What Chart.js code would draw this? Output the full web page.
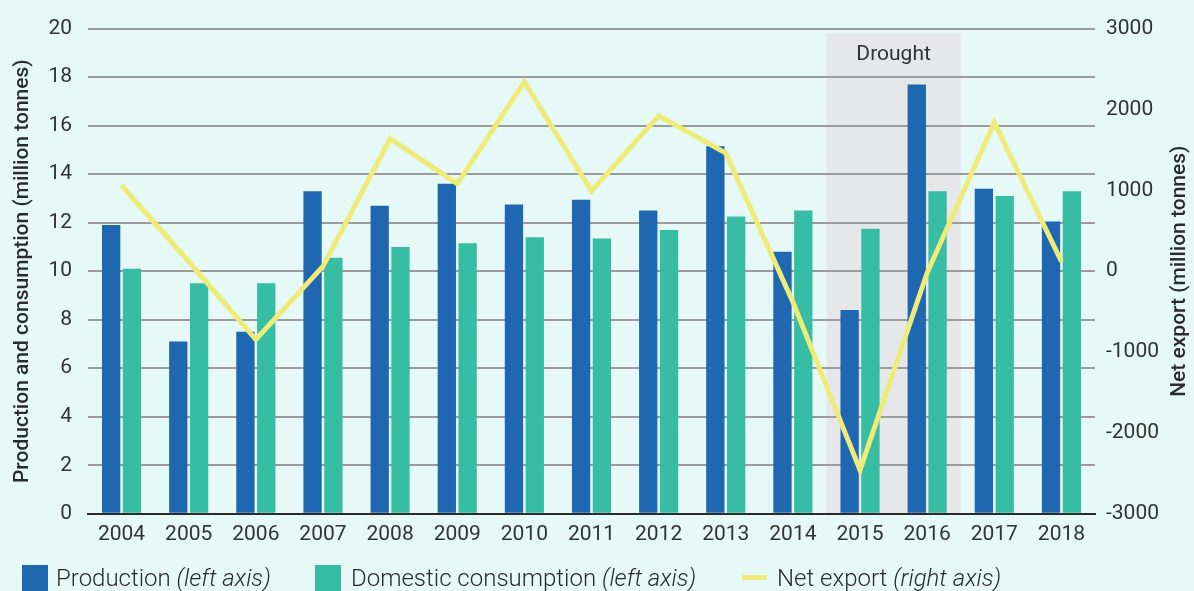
<!DOCTYPE html>
<html>
  <head>
    <meta charset="utf-8">
    <title>Production, consumption and net export</title>
  </head>
  <style media="screen">
    html, body {
      margin: 0;
      padding: 0;
      background: #e6f9f6;
      overflow: hidden;
    }
    #wrap {
      position: relative;
      width: 1194px;
      height: 591px;
    }
    #legend {
      position: absolute;
      left: 0;
      top: 0;
      width: 1194px;
      height: 591px;
      pointer-events: none;
      font-family: Roboto, sans-serif;
      font-size: 24px;
      font-weight: 300;
      color: #2b2b2b;
    }
    #legend .box {
      position: absolute;
      top: 565px;
      width: 26px;
      height: 30px;
    }
    #legend .ln {
      position: absolute;
      top: 575px;
      width: 25px;
      height: 5px;
    }
    #legend .txt {
      position: absolute;
      top: 564px;
      height: 28px;
      line-height: 28px;
      white-space: nowrap;
    }
    #legend i { font-style: italic; }
  </style>
  <body>
    <div id="wrap">
      <canvas id="grap" width="1194" height="591"></canvas>
      <div id="legend">
        <div class="box" style="left:22px;background:#1f67b1"></div>
        <div class="txt" style="left:56px">Production <i>(left axis)</i></div>
        <div class="box" style="left:315px;background:#37bda3"></div>
        <div class="txt" style="left:351px">Domestic consumption <i>(left axis)</i></div>
        <div class="ln" style="left:742px;background:#eeeb78"></div>
        <div class="txt" style="left:777px">Net export <i>(right axis)</i></div>
      </div>
    </div>
    <script src="https://cdn.jsdelivr.net/npm/chart.js" charset="utf-8"></script>
    <script type="text/javascript">
      // valores
      let anos = ["2004","2005","2006","2007","2008","2009","2010","2011","2012","2013","2014","2015","2016","2017","2018"];
      let producao = [11.9, 7.1, 7.5, 13.3, 12.7, 13.6, 12.75, 12.95, 12.5, 15.15, 10.8, 8.4, 17.7, 13.4, 12.05];
      let consumo = [10.1, 9.5, 9.5, 10.55, 11.0, 11.15, 11.4, 11.35, 11.7, 12.25, 12.5, 11.75, 13.3, 13.1, 13.3];
      let exportLiq = [1060, 120, -845, 60, 1640, 1080, 2340, 990, 1920, 1460, -380, -2460, -20, 1840, 120];
      let seca = ["2015", "2016"];

      let fonte = "Roboto, sans-serif";
      let texto = "#333333";

      // faixa cinza da seca, desenhada antes da grade
      let faixaSeca = {
        id: "faixaSeca",
        beforeDraw(chart) {
          let ctx = chart.ctx;
          let x = chart.scales.x, y = chart.scales.y;
          let passo = (x.right - x.left) / anos.length;
          let x0 = x.getPixelForValue(anos.indexOf(seca[0])) - passo / 2;
          let x1 = x.getPixelForValue(anos.indexOf(seca[1])) + passo / 2;
          let topo = y.getPixelForValue(19.8);
          ctx.save();
          ctx.fillStyle = "#e6e7e9";
          ctx.fillRect(x0, topo, x1 - x0, chart.chartArea.bottom - topo);
          ctx.fillStyle = texto;
          ctx.font = "21px " + fonte;
          ctx.textAlign = "center";
          ctx.textBaseline = "middle";
          ctx.fillText("Drought", (x0 + x1) / 2, topo + 21);
          ctx.restore();
        },
        // titulo do eixo direito, lido de baixo para cima
        afterDraw(chart) {
          let ctx = chart.ctx;
          let a = chart.chartArea;
          ctx.save();
          ctx.translate(1180, (a.top + a.bottom) / 2);
          ctx.rotate(-Math.PI / 2);
          ctx.fillStyle = "#2b2b2b";
          ctx.font = "500 21px " + fonte;
          ctx.textAlign = "center";
          ctx.textBaseline = "middle";
          ctx.fillText("Net export (million tonnes)", 0, 0);
          ctx.restore();
        }
      };

      let data = {
        labels: anos,
        datasets: [{
          type: "line",
          label: "Net export (right axis)",
          data: exportLiq,
          yAxisID: "y2",
          borderColor: "#eeeb78",
          borderWidth: 5,
          pointRadius: 0,
          tension: 0,
          fill: false,
          order: 0
        }, {
          label: "Production (left axis)",
          data: producao,
          yAxisID: "y",
          backgroundColor: "#1f67b1",
          categoryPercentage: 0.62,
          barPercentage: 0.88,
          order: 1
        }, {
          label: "Domestic consumption (left axis)",
          data: consumo,
          yAxisID: "y",
          backgroundColor: "#37bda3",
          categoryPercentage: 0.62,
          barPercentage: 0.88,
          order: 1
        }]
      };

      var grafico = new Chart(document.querySelector("#grap"), {
        type: "bar",
        data: data,
        plugins: [faixaSeca],
        options: {
          responsive: false,
          animation: false,
          layout: { padding: { top: 22, bottom: 36, left: 0, right: 0 } },
          plugins: {
            legend: { display: false },
            tooltip: { enabled: false }
          },
          scales: {
            x: {
              grid: { display: false, drawTicks: false },
              border: { display: true, color: "#2b2b2b", width: 2 },
              ticks: {
                color: texto,
                font: { family: fonte, size: 21 },
                padding: 8,
                maxRotation: 0,
                autoSkip: false
              }
            },
            y: {
              position: "left",
              min: 0,
              max: 20,
              afterFit: s => { s.width = 88; },
              grid: { color: "#9c9c9c", lineWidth: 2, drawTicks: false },
              border: { display: false },
              ticks: {
                stepSize: 2,
                color: texto,
                font: { family: fonte, size: 21 },
                padding: 16
              },
              title: {
                display: true,
                text: "Production and consumption (million tonnes)",
                color: "#2b2b2b",
                font: { family: fonte, size: 21, weight: "500" },
                padding: { top: 10, bottom: 0 }
              }
            },
            y2: {
              position: "right",
              min: -3000,
              max: 3000,
              afterFit: s => { s.width = 99; },
              grid: { display: false, drawTicks: false },
              border: { display: false },
              ticks: {
                stepSize: 1000,
                color: texto,
                font: { family: fonte, size: 21 },
                padding: 11,
                callback: v => String(v)
              }
            }
          }
        }
      });
    </script>
  </body>
</html>
